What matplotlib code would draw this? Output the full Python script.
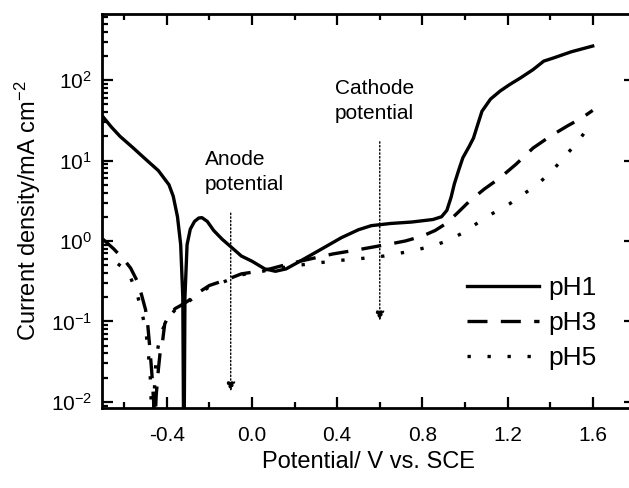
import matplotlib
matplotlib.use("Agg")
import matplotlib.pyplot as plt
from matplotlib.ticker import MultipleLocator, LogLocator, NullFormatter

plt.rcParams['font.family'] = ['Liberation Sans', 'DejaVu Sans']
plt.rcParams['mathtext.fontset'] = 'custom'
plt.rcParams['mathtext.rm'] = 'Liberation Sans'
plt.rcParams['mathtext.it'] = 'Liberation Sans'
plt.rcParams['axes.unicode_minus'] = False

# pH1 polarisation curve
x_ph1 = [-0.70, -0.66, -0.62, -0.56, -0.50, -0.44, -0.39, -0.37, -0.35, -0.335, -0.325,
         -0.32, -0.315, -0.305, -0.29, -0.27, -0.25, -0.235, -0.21, -0.18, -0.14, -0.10,
         -0.05, 0.00, 0.06, 0.11, 0.16, 0.22, 0.31, 0.42, 0.50, 0.56, 0.65, 0.75, 0.85,
         0.89, 0.915, 0.935, 0.95, 0.97, 0.99, 1.02, 1.04, 1.06, 1.08, 1.12, 1.165, 1.21,
         1.26, 1.32, 1.37, 1.42, 1.50, 1.60]
y_ph1 = [35, 26, 20, 14.5, 10.4, 7.5, 5.0, 3.6, 2.0, 0.9, 0.2,
         0.001, 0.2, 0.9, 1.4, 1.75, 1.93, 1.95, 1.75, 1.35, 1.05, 0.85,
         0.65, 0.56, 0.45, 0.42, 0.45, 0.55, 0.75, 1.1, 1.38, 1.55, 1.65, 1.72, 1.85,
         2.0, 2.4, 3.5, 5.1, 7.5, 10.8, 15, 19, 28, 41, 58, 73, 88,
         106, 135, 172, 190, 225, 265]

# pH3 polarisation curve
x_ph3 = [-0.70, -0.65, -0.60, -0.57, -0.54, -0.52, -0.50, -0.49, -0.48, -0.47, -0.462,
         -0.458, -0.455, -0.45, -0.44, -0.43, -0.42, -0.41, -0.39, -0.36, -0.34, -0.30,
         -0.25, -0.20, -0.12, -0.05, 0.03, 0.085, 0.15, 0.225, 0.30, 0.38, 0.50, 0.65,
         0.72, 0.80, 0.86, 0.915, 0.97, 1.02, 1.09, 1.165, 1.24, 1.32, 1.40, 1.48, 1.55, 1.60]
y_ph3 = [1.05, 0.8, 0.58, 0.46, 0.32, 0.22, 0.14, 0.093, 0.047, 0.022, 0.01,
         0.001, 0.006, 0.012, 0.025, 0.045, 0.057, 0.093, 0.12, 0.145, 0.155, 0.18,
         0.23, 0.28, 0.33, 0.39, 0.42, 0.45, 0.5, 0.56, 0.62, 0.69, 0.78, 0.92,
         1.0, 1.15, 1.35, 1.67, 2.3, 3.1, 4.4, 6.1, 9.0, 14.3, 20, 26.8, 34, 42]

# pH5 polarisation curve
x_ph5 = [-0.63, -0.60, -0.57, -0.54, -0.52, -0.50, -0.49, -0.48, -0.475, -0.468, -0.462,
         -0.456, -0.45, -0.44, -0.43, -0.41, -0.39, -0.36, -0.34, -0.30, -0.25, -0.20,
         -0.12, -0.05, 0.03, 0.085, 0.15, 0.22, 0.30, 0.40, 0.50, 0.62, 0.75, 0.85, 0.915,
         0.99, 1.06, 1.13, 1.21, 1.28, 1.35, 1.42, 1.49, 1.53, 1.56, 1.60]
y_ph5 = [0.52, 0.45, 0.35, 0.22, 0.14, 0.08, 0.05, 0.025, 0.015, 0.001, 0.008,
         0.02, 0.035, 0.05, 0.07, 0.09, 0.115, 0.14, 0.15, 0.175, 0.22, 0.27,
         0.32, 0.38, 0.41, 0.44, 0.47, 0.5, 0.53, 0.57, 0.6, 0.65, 0.75, 0.87, 1.0,
         1.26, 1.68, 2.2, 2.9, 3.9, 5.3, 8.0, 13, 17, 22, 30]

fig = plt.figure(figsize=(6.29, 4.88), dpi=100)
ax = fig.add_axes([0.162, 0.164, 0.848, 0.807])

ax.plot(x_ph1, y_ph1, color='black', lw=2.4, label='pH1')
ax.plot(x_ph3, y_ph3, color='black', lw=2.4, dashes=(6, 4), label='pH3')
ax.plot(x_ph5, y_ph5, color='black', lw=2.4, dashes=(1, 5), label='pH5')

ax.set_yscale('log')
ax.set_xlim(-0.705, 1.8)
ax.set_ylim(0.0084, 660)

ax.xaxis.set_major_locator(MultipleLocator(0.4))
ax.xaxis.set_minor_locator(MultipleLocator(0.2))
ax.yaxis.set_major_locator(LogLocator(base=10))
ax.yaxis.set_minor_locator(LogLocator(base=10, subs=range(2, 10)))
ax.yaxis.set_minor_formatter(NullFormatter())

ax.tick_params(which='both', direction='in', top=True, right=True, width=1.6, labelsize=15)
ax.tick_params(which='major', length=8)
ax.tick_params(which='minor', length=4)
ax.tick_params(axis='x', which='major', pad=13)
ax.tick_params(axis='y', which='major', pad=7)
for s in ax.spines.values():
    s.set_linewidth(2)

ax.set_xlabel('Potential/ V vs. SCE', fontsize=17, labelpad=4)
ax.set_ylabel('Current density/mA cm$^{-2}$', fontsize=17, labelpad=6)

# arrows marking the potentials
ax.annotate('', xy=(-0.1, 0.0125), xytext=(-0.1, 2.4),
            arrowprops=dict(arrowstyle='-|>', linestyle=':', color='black', lw=1,
                            mutation_scale=14))
ax.text(-0.22, 4.3, 'Anode\npotential', fontsize=15, linespacing=1.4)
ax.annotate('', xy=(0.6, 0.095), xytext=(0.6, 18.5),
            arrowprops=dict(arrowstyle='-|>', linestyle=':', color='black', lw=1,
                            mutation_scale=14))
ax.text(0.39, 33, 'Cathode\npotential', fontsize=15, linespacing=1.4)

ax.legend(loc='upper left', bbox_to_anchor=(0.684, 0.335), frameon=False, fontsize=19,
          handlelength=2.75, handletextpad=0.33, labelspacing=0.42, borderaxespad=0,
          borderpad=0)

fig.savefig('out.png', dpi=100)
